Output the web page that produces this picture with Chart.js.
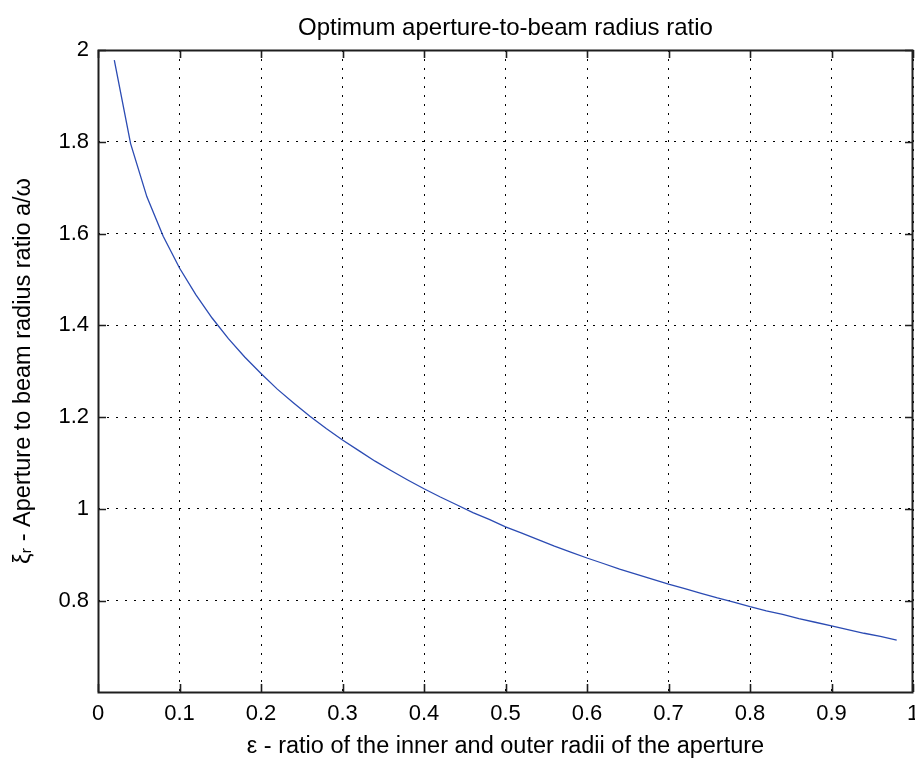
<!DOCTYPE html>
<html>
<head>
<meta charset="utf-8">
<script src="https://cdn.jsdelivr.net/npm/chart.js@4/dist/chart.umd.min.js"></script>
<style>
  html, body { margin: 0; padding: 0; background: #ffffff; overflow: hidden; }
  #wrap { width: 915px; height: 762px; }
  canvas { display: block; }
</style>
</head>
<body>
<div id="wrap"><canvas id="c" width="915" height="762"></canvas></div>
<script>
// Obscuration ratio of the annular aperture
const EPSILON = [0.02, 0.04, 0.06, 0.08, 0.10, 0.12, 0.14, 0.16, 0.18, 0.20,
  0.22, 0.24, 0.26, 0.28, 0.30, 0.32, 0.34, 0.36, 0.38, 0.40,
  0.42, 0.44, 0.46, 0.48, 0.50, 0.52, 0.54, 0.56, 0.58, 0.60,
  0.62, 0.64, 0.66, 0.68, 0.70, 0.72, 0.74, 0.76, 0.78, 0.80,
  0.82, 0.84, 0.86, 0.88, 0.90, 0.92, 0.94, 0.96, 0.98];
// Optimum aperture-to-beam radius ratio a/w
const XI_OPT = [1.978, 1.796, 1.680, 1.594, 1.525, 1.467, 1.416, 1.371, 1.331, 1.295,
  1.261, 1.231, 1.202, 1.175, 1.150, 1.127, 1.104, 1.083, 1.063, 1.044,
  1.026, 1.009, 0.992, 0.977, 0.961, 0.947, 0.933, 0.919, 0.906, 0.893,
  0.881, 0.869, 0.858, 0.847, 0.836, 0.826, 0.816, 0.806, 0.797, 0.787,
  0.778, 0.770, 0.761, 0.753, 0.745, 0.737, 0.729, 0.722, 0.714];
const X_TICKS = [0, 0.1, 0.2, 0.3, 0.4, 0.5, 0.6, 0.7, 0.8, 0.9, 1];
const Y_TICKS = [0.8, 1, 1.2, 1.4, 1.6, 1.8, 2];

const FONT = "'Liberation Sans', Arial, Helvetica, sans-serif";
const AXIS_COLOR = '#1e1e1e';

// Axes box with inward tick marks on all four sides
const boxTicks = {
  id: 'boxTicks',
  afterDraw(chart) {
    const { ctx, chartArea: a, scales } = chart;
    const len = 8;
    ctx.save();
    ctx.strokeStyle = AXIS_COLOR;
    ctx.setLineDash([]);
    ctx.lineWidth = 1.6;
    ctx.beginPath();
    X_TICKS.forEach(v => {
      const px = Math.round(scales.x.getPixelForValue(v)) + 0.5;
      ctx.moveTo(px, a.bottom); ctx.lineTo(px, a.bottom - len);
      ctx.moveTo(px, a.top); ctx.lineTo(px, a.top + len);
    });
    Y_TICKS.forEach(v => {
      const py = Math.round(scales.y.getPixelForValue(v)) + 0.5;
      ctx.moveTo(a.left, py); ctx.lineTo(a.left + len, py);
      ctx.moveTo(a.right, py); ctx.lineTo(a.right - len, py);
    });
    ctx.stroke();
    ctx.lineWidth = 2;
    ctx.strokeRect(a.left + 0.5, a.top + 0.5, a.right - a.left - 1, a.bottom - a.top);
    ctx.restore();
  }
};

new Chart(document.getElementById('c'), {
  type: 'line',
  data: {
    labels: EPSILON,
    datasets: [{
      data: EPSILON.map((e, i) => ({ x: e, y: XI_OPT[i] })),
      borderColor: '#2b4bb3',
      borderWidth: 1.3,
      pointRadius: 0,
      tension: 0,
      fill: false
    }]
  },
  options: {
    responsive: false,
    animation: false,
    layout: { padding: { left: 0, right: 2, top: 0, bottom: 0 } },
    plugins: {
      legend: { display: false },
      tooltip: { enabled: false },
      title: {
        display: true,
        text: 'Optimum aperture-to-beam radius ratio',
        color: '#000',
        fullSize: false,
        font: { family: FONT, size: 24, weight: 'normal' },
        padding: { top: 14, bottom: 7.2 }
      }
    },
    scales: {
      x: {
        type: 'linear',
        min: 0, max: 1,
        afterBuildTicks(s) { s.ticks = X_TICKS.map(v => ({ value: v })); },
        afterFit(s) { s.height = 70; s.paddingLeft = 0; s.paddingRight = 0; },
        ticks: {
          color: '#000',
          padding: 9,
          maxRotation: 0,
          autoSkip: false,
          font: { family: FONT, size: 22 },
          callback: v => String(v)
        },
        grid: { color: '#000', lineWidth: 1, drawTicks: false },
        border: { display: false, dash: [2, 7] },
        title: {
          display: true,
          text: 'ε - ratio of the inner and outer radii of the aperture',
          color: '#000',
          font: { family: FONT, size: 23.5 },
          padding: { top: 0, bottom: 1 }
        }
      },
      y: {
        type: 'linear',
        min: 0.601, max: 2,
        afterBuildTicks(s) { s.ticks = Y_TICKS.map(v => ({ value: v })); },
        afterFit(s) { s.width = 98; s.paddingTop = 0; s.paddingBottom = 0; },
        ticks: {
          color: '#000',
          padding: 9,
          autoSkip: false,
          font: { family: FONT, size: 22 },
          callback: v => String(v)
        },
        grid: { color: '#000', lineWidth: 1, drawTicks: false },
        border: { display: false, dash: [2, 7] },
        title: {
          display: true,
          text: 'ξᵣ - Aperture to beam radius ratio a/ω',
          color: '#000',
          font: { family: FONT, size: 23.5 },
          padding: { top: 9, bottom: 0 }
        }
      }
    }
  },
  plugins: [boxTicks]
});
</script>
</body>
</html>
